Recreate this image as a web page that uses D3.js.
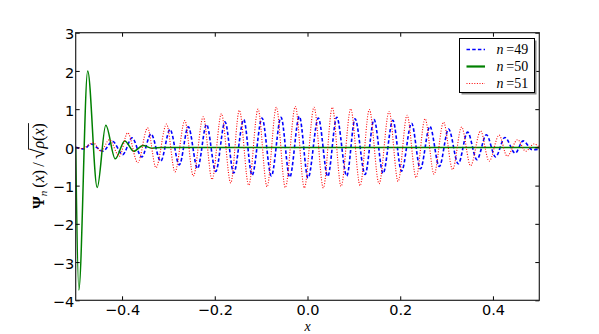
<!DOCTYPE html>
<html>
<head>
<meta charset="utf-8">
<script src="https://cdn.jsdelivr.net/npm/d3@7"></script>
<style>
  body { margin: 0; background: #fff; }
  svg { display: block; }
  .tick text { font-family: "DejaVu Sans", sans-serif; font-size: 14.5px; fill: #000; }
  .tick line { stroke: #000; }
  .domain { display: none; }
</style>
</head>
<body>
<div class="landing"></div>
<script>
// values (extrema of each curve)
const n49X = [-0.5, -0.4821, -0.4670, -0.4411, -0.4206, -0.3986, -0.3785, -0.3576, -0.3375, -0.3166,
  -0.2965, -0.2765, -0.2571, -0.2372, -0.2178, -0.1979, -0.1779, -0.1591, -0.1375, -0.1196,
  -0.0981, -0.0780, -0.0571, -0.0383, -0.0176, 0.0012, 0.0234, 0.0437, 0.0631, 0.0847,
  0.1026, 0.1242, 0.1436, 0.1630, 0.1841, 0.2029, 0.2245, 0.2435, 0.2640, 0.2843,
  0.3043, 0.3252, 0.3453, 0.3654, 0.3859, 0.4057, 0.4258, 0.4482, 0.4651, 0.4849, 0.5]
const n49Y = [0.0, -0.04, 0.09, -0.10, 0.16, -0.19, 0.25, -0.25, 0.35, -0.36,
  0.47, -0.46, 0.54, -0.55, 0.60, -0.63, 0.67, -0.67, 0.73, -0.73,
  0.77, -0.75, 0.79, -0.78, 0.81, -0.80, 0.77, -0.76, 0.79, -0.75,
  0.75, -0.71, 0.73, -0.68, 0.71, -0.62, 0.63, -0.56, 0.55, -0.50,
  0.48, -0.43, 0.40, -0.32, 0.33, -0.25, 0.26, -0.15, 0.17, -0.06, -0.05]

const n50X = [-0.5, -0.4933, -0.4741, -0.4536, -0.4351, -0.4146, -0.3941, -0.3746, -0.3550, -0.3354, -0.3138, 0.5]
const n50Y = [0.0, -3.73, 2.0, -1.05, 0.58, -0.30, 0.17, -0.10, 0.05, -0.02, 0.0, 0.0]

const n51X = [-0.5, -0.4864, -0.4620, -0.4454, -0.4275, -0.4059, -0.3878, -0.3662, -0.3449, -0.3268,
  -0.3041, -0.2858, -0.2646, -0.2463, -0.2249, -0.2059, -0.1857, -0.1656, -0.1470, -0.1268,
  -0.1067, -0.0873, -0.0672, -0.0478, -0.0262, -0.0068, 0.0141, 0.0342, 0.0536, 0.0724,
  0.0933, 0.1134, 0.1334, 0.1544, 0.1760, 0.1954, 0.2148, 0.2342, 0.2536, 0.2730,
  0.2935, 0.3130, 0.3324, 0.3518, 0.3734, 0.3917, 0.4133, 0.4305, 0.4532, 0.4705, 0.4888, 0.5]
const n51Y = [0.0, -0.03, 0.12, -0.10, 0.20, -0.23, 0.38, -0.40, 0.51, -0.53,
  0.61, -0.64, 0.70, -0.75, 0.80, -0.84, 0.88, -0.93, 0.97, -0.99,
  1.00, -1.03, 1.05, -1.05, 1.07, -1.06, 1.05, -1.06, 1.05, -1.02,
  1.01, -1.00, 0.99, -0.95, 0.94, -0.89, 0.84, -0.79, 0.75, -0.70,
  0.66, -0.58, 0.53, -0.48, 0.43, -0.36, 0.32, -0.23, 0.20, -0.10, 0.09, 0.0]

const seriesLabels = ['49', '50', '51']
const xTicks = [-0.4, -0.2, 0.0, 0.2, 0.4]
const yTicks = [-4, -3, -2, -1, 0, 1, 2, 3]

document.addEventListener('DOMContentLoaded', start)

function start () {
  const svg = d3.select('.landing').append('svg')
    .attr('width', 599)
    .attr('height', 334)
  const frame = { left: 75.7, top: 32.7, right: 539.3, bottom: 300.3 }
  const x = d3.scaleLinear().domain([-0.5, 0.5]).range([frame.left, frame.right])
  const y = d3.scaleLinear().domain([-4, 3]).range([frame.bottom, frame.top])
  drawLines(svg, x, y, frame)
  drawAxes(svg, x, y, frame)
  drawLegend(svg)
  drawLabels(svg, frame)
}

function drawLines (svg, x, y, frame) {
  svg.append('clipPath').attr('id', 'plotClip')
    .append('rect')
    .attr('x', frame.left).attr('y', frame.top)
    .attr('width', frame.right - frame.left).attr('height', frame.bottom - frame.top)

  const line = d3.line()
    .x(d => x(d[0]))
    .y(d => y(d[1]))
    .curve(d3.curveMonotoneX)

  const series = [
    { pts: d3.zip(n49X, n49Y), color: '#0000ff', width: 1.6, dash: '3.5,2.2' },
    { pts: d3.zip(n50X, n50Y), color: '#008000', width: 1.5, dash: null },
    { pts: d3.zip(n51X, n51Y), color: '#ff0000', width: 1.1, dash: '1,1.6' }
  ]

  const g = svg.append('g').attr('clip-path', 'url(#plotClip)')
  series.forEach(s => {
    g.append('path')
      .attr('d', line(s.pts))
      .attr('fill', 'none')
      .attr('stroke', s.color)
      .attr('stroke-width', s.width)
      .attr('stroke-dasharray', s.dash)
  })
}

function drawAxes (svg, x, y, frame) {
  const fmtX = d3.format('.1f')
  svg.append('g')
    .attr('transform', `translate(0,${frame.bottom})`)
    .call(d3.axisBottom(x).tickValues(xTicks).tickFormat(fmtX).tickSize(-4).tickPadding(4))
  svg.append('g')
    .attr('transform', `translate(0,${frame.top})`)
    .call(d3.axisTop(x).tickValues(xTicks).tickFormat('').tickSize(-4))
  svg.append('g')
    .attr('transform', `translate(${frame.left},0)`)
    .call(d3.axisLeft(y).tickValues(yTicks).tickFormat(d3.format('d')).tickSize(-4).tickPadding(1.5))
    .selectAll('text').attr('dy', '0.42em')
  svg.append('g')
    .attr('transform', `translate(${frame.right},0)`)
    .call(d3.axisRight(y).tickValues(yTicks).tickFormat('').tickSize(-4))

  svg.append('rect')
    .attr('x', frame.left).attr('y', frame.top)
    .attr('width', frame.right - frame.left).attr('height', frame.bottom - frame.top)
    .attr('fill', 'none')
    .attr('stroke', '#222')
    .attr('stroke-width', 1.2)
}

function drawLegend (svg) {
  const box = { x: 459.5, y: 38.5, w: 75, h: 54 }
  svg.append('rect')
    .attr('x', box.x + 2).attr('y', box.y + 2)
    .attr('width', box.w).attr('height', box.h)
    .attr('fill', '#8a8a8a')
  svg.append('rect')
    .attr('x', box.x).attr('y', box.y)
    .attr('width', box.w).attr('height', box.h)
    .attr('fill', '#fff')
    .attr('stroke', '#000')
    .attr('stroke-width', 1)

  const styles = [
    { color: '#0000ff', width: 1.6, dash: '3.5,2.2' },
    { color: '#008000', width: 2.2, dash: null },
    { color: '#ff0000', width: 1.1, dash: '1,1.6' }
  ]
  const rowY = [49.5, 66.5, 83.5]
  seriesLabels.forEach((lab, i) => {
    svg.append('line')
      .attr('x1', 466.5).attr('x2', 485)
      .attr('y1', rowY[i]).attr('y2', rowY[i])
      .attr('stroke', styles[i].color)
      .attr('stroke-width', styles[i].width)
      .attr('stroke-dasharray', styles[i].dash)
    const t = svg.append('text')
      .attr('x', 496.5).attr('y', rowY[i] + 4.5)
      .style('font-family', '"Liberation Serif", serif')
      .style('font-size', '14px')
    t.append('tspan').style('font-style', 'italic').text('n')
    t.append('tspan').text('\u2009=' + lab)
  })
}

function drawLabels (svg, frame) {
  // x label
  svg.append('text')
    .attr('x', (frame.left + frame.right) / 2)
    .attr('y', 331)
    .attr('text-anchor', 'middle')
    .style('font-family', '"Liberation Serif", serif')
    .style('font-style', 'italic')
    .style('font-size', '14px')
    .text('x')

  // y label, rotated
  const g = svg.append('g').attr('transform', 'translate(44,166) rotate(-90)')
  const t = g.append('text')
    .attr('text-anchor', 'middle')
    .style('font-family', '"Liberation Serif", serif')
    .style('font-size', '16px')
  t.append('tspan').style('font-weight', 'bold').text('\u03A8')
  t.append('tspan').attr('dy', 3).style('font-style', 'italic').style('font-size', '11px').text('n')
  t.append('tspan').attr('dy', -3).text('\u2009(')
  t.append('tspan').style('font-style', 'italic').text('x')
  t.append('tspan').text(')\u2009/\u2009')
  t.append('tspan').style('font-size', '19px').text('\u221A')
  const under = t.append('tspan').style('font-style', 'italic').text('\u03C1')
  t.append('tspan').text('(')
  t.append('tspan').style('font-style', 'italic').text('x')
  t.append('tspan').text(')')

  // overline of the root
  const full = t.node().getBBox()
  const start = under.node().getStartPositionOfChar(0).x
  g.append('line')
    .attr('x1', start - 1).attr('x2', full.x + full.width)
    .attr('y1', full.y + 1.5).attr('y2', full.y + 1.5)
    .attr('stroke', '#000')
    .attr('stroke-width', 0.9)
}
</script>
</body>
</html>
